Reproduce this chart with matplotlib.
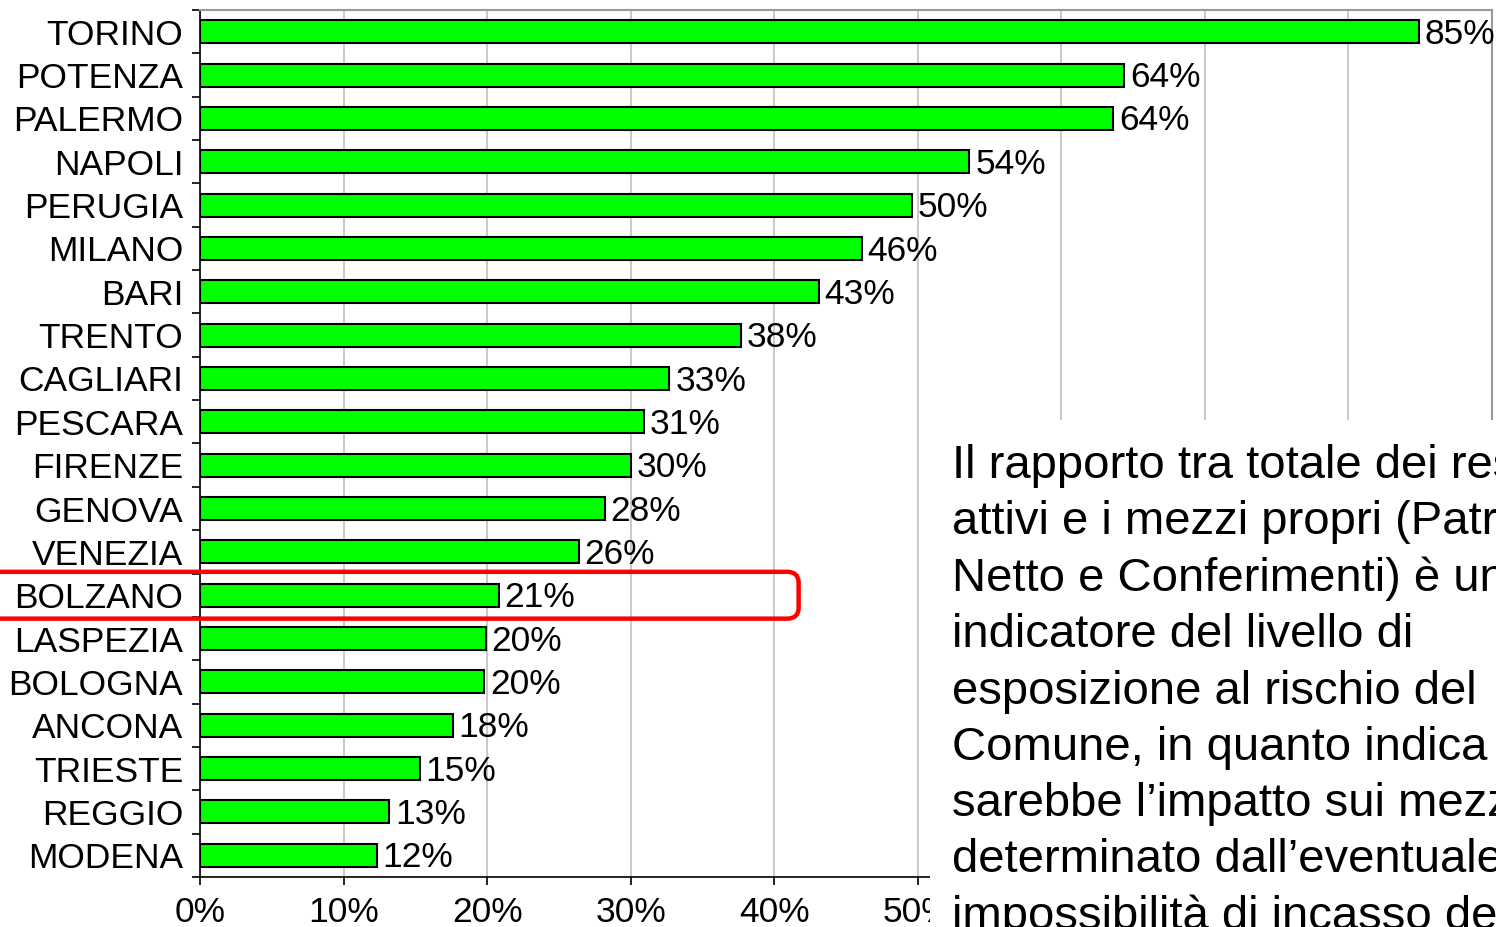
import matplotlib.pyplot as plt
import numpy as np
from matplotlib.patches import Rectangle, FancyBboxPatch
from matplotlib.ticker import FixedLocator

plt.rcParams['font.family'] = ['Liberation Sans', 'DejaVu Sans']

# Data (top to bottom as in the chart)
cities = ['TORINO', 'POTENZA', 'PALERMO', 'NAPOLI', 'PERUGIA', 'MILANO', 'BARI',
          'TRENTO', 'CAGLIARI', 'PESCARA', 'FIRENZE', 'GENOVA', 'VENEZIA',
          'BOLZANO', 'LASPEZIA', 'BOLOGNA', 'ANCONA', 'TRIESTE', 'REGGIO', 'MODENA']
ratio = [0.849, 0.644, 0.636, 0.536, 0.496, 0.461, 0.431, 0.377, 0.327, 0.309,
         0.300, 0.282, 0.264, 0.208, 0.199, 0.198, 0.176, 0.153, 0.132, 0.123]
highlight = 'BOLZANO'
xticks = [0.0, 0.1, 0.2, 0.3, 0.4, 0.5, 0.6, 0.7, 0.8, 0.9]
# labels from 60% on sit under the text panel
xtick_labels = ['0%', '10%', '20%', '30%', '40%', '50%', '', '', '', '']

note = ("Il rapporto tra totale dei residui\n"
        "attivi e i mezzi propri (Patrimonio\n"
        "Netto e Conferimenti) è un\n"
        "indicatore del livello di\n"
        "esposizione al rischio del\n"
        "Comune, in quanto indica quale\n"
        "sarebbe l’impatto sui mezzi propri\n"
        "determinato dall’eventuale\n"
        "impossibilità di incasso dei residui")

fig = plt.figure(figsize=(14.96, 9.27), dpi=100)
ax = fig.add_axes([200 / 1496, 50 / 927, 1292 / 1496, 867 / 927])

y = np.arange(len(cities))
ax.barh(y, ratio, height=0.53, color='#00ff00', edgecolor='black', linewidth=1.5, zorder=3)

for yi, v in zip(y, ratio):
    ax.text(v + 0.004, yi + 0.06, f'{v * 100:.0f}%', va='center', ha='left',
            fontsize=25.5, zorder=4)

ax.set_xlim(0, 0.9)
ax.set_ylim(len(cities) - 0.5, -0.5)
ax.set_xticks(xticks)
ax.set_xticklabels(xtick_labels)
ax.grid(axis='x', color='#c0c0c0', linewidth=1.2, zorder=0)

ax.set_yticks(y)
ax.set_yticklabels(cities, fontsize=25.5)
ax.yaxis.set_minor_locator(FixedLocator(np.arange(-0.5, len(cities), 1)))
ax.tick_params(axis='y', which='major', length=0, pad=12)
ax.tick_params(axis='y', which='minor', length=6, width=1.2, color='black')
ax.tick_params(axis='x', labelsize=25.5, length=6, width=1.2, pad=8)

for s in ['top', 'right']:
    ax.spines[s].set_color('#999999')
    ax.spines[s].set_linewidth(1.5)
for s in ['left', 'bottom']:
    ax.spines[s].set_color('black')
    ax.spines[s].set_linewidth(1.2)

# red rounded box around the highlighted row
hi = cities.index(highlight)
box = FancyBboxPatch((-0.15, hi - 0.54), 0.567, 1.08,
                     boxstyle='round,pad=0,rounding_size=0.008', mutation_aspect=31,
                     facecolor='none', edgecolor='#ff0000', linewidth=3.2,
                     clip_on=False, zorder=6)
ax.add_patch(box)

# white text panel overlapping the chart
fig.add_artist(Rectangle((930 / 1496, 0), 1, 507 / 927, transform=fig.transFigure,
                         facecolor='white', edgecolor='none', zorder=10))
fig.text(952 / 1496, 1 - 444 / 927, note, fontsize=34, va='top', ha='left',
         linespacing=1.36, zorder=11)

fig.savefig('out.png', dpi=100)
